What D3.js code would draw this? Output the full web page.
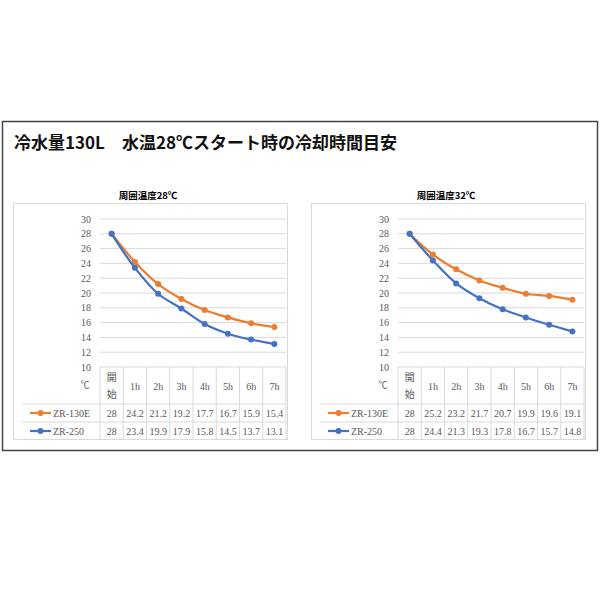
<!DOCTYPE html>
<html><head><meta charset="utf-8">
<script src="https://cdn.jsdelivr.net/npm/d3@7"></script>
<style>body{margin:0;background:#fff}</style>
</head><body>
<svg id="c" width="600" height="600"></svg>
<script>
const categories = ['開始', '1h', '2h', '3h', '4h', '5h', '6h', '7h'];
const yTicks = [10, 12, 14, 16, 18, 20, 22, 24, 26, 28, 30];
const seriesNames = ['ZR-130E', 'ZR-250'];
const colors = ['#ed7d31', '#4472c4'];
const zr130e28 = [28, 24.2, 21.2, 19.2, 17.7, 16.7, 15.9, 15.4];
const zr250_28 = [28, 23.4, 19.9, 17.9, 15.8, 14.5, 13.7, 13.1];
const zr130e32 = [28, 25.2, 23.2, 21.7, 20.7, 19.9, 19.6, 19.1];
const zr250_32 = [28, 24.4, 21.3, 19.3, 17.8, 16.7, 15.7, 14.8];

const svg = d3.select('#c');
const jp = '"Noto Sans CJK JP", sans-serif';
const serif = '"Liberation Serif", "DejaVu Serif", serif';

// outer frame
svg.append('rect').attr('x', 2.5).attr('y', 121.5).attr('width', 595).attr('height', 329)
    .attr('fill', '#fff').attr('stroke', '#444').attr('stroke-width', 1.5);
svg.append('text').attr('x', 14).attr('y', 149).attr('font-family', jp)
    .attr('font-size', 17).attr('font-weight', 'bold').attr('fill', '#111')
    .text('冷水量130L　水温28℃スタート時の冷却時間目安');

function drawChart(ox, title, data) {
    let g = svg.append('g').attr('transform', `translate(${ox},0)`);
    g.append('text').attr('x', 148).attr('y', 199).attr('text-anchor', 'middle')
        .attr('font-family', jp).attr('font-size', 9.5).attr('font-weight', 'bold').text(title);
    g.append('rect').attr('x', 13.5).attr('y', 203.5).attr('width', 274).attr('height', 236)
        .attr('fill', '#fff').attr('stroke', '#d9d9d9');

    let x = d3.scaleBand().domain(categories).range([100, 286]);
    let y = d3.scaleLinear().domain([10, 30]).range([367, 219]);

    // gridlines
    g.selectAll('.grid').data(yTicks).join('line')
        .attr('x1', 100).attr('x2', 286).attr('y1', d => y(d)).attr('y2', d => y(d))
        .attr('stroke', '#d9d9d9');
    g.selectAll('.yl').data(yTicks).join('text')
        .attr('x', 91).attr('y', d => y(d) + 3.5).attr('text-anchor', 'end')
        .attr('font-family', serif).attr('font-size', 10).attr('fill', '#595959').text(d => d);

    // table
    let rowY = [413, 431];
    g.selectAll('.vl').data(categories.concat(['end'])).join('line')
        .attr('x1', (d, i) => 100 + i * x.bandwidth()).attr('x2', (d, i) => 100 + i * x.bandwidth())
        .attr('y1', 367).attr('y2', 440).attr('stroke', '#d9d9d9');
    [404, 422].forEach(ly => g.append('line').attr('x1', 22).attr('x2', 286)
        .attr('y1', ly).attr('y2', ly).attr('stroke', '#d9d9d9'));
    g.append('text').attr('x', 85).attr('y', 388).attr('text-anchor', 'middle')
        .attr('font-family', jp).attr('font-size', 9).attr('fill', '#595959').text('℃');
    categories.forEach((c, i) => {
        let cx = x(c) + x.bandwidth() / 2;
        if (i === 0) {
            g.append('text').attr('x', cx).attr('y', 381).attr('text-anchor', 'middle')
                .attr('font-family', jp).attr('font-size', 10).attr('fill', '#595959').text('開');
            g.append('text').attr('x', cx).attr('y', 398).attr('text-anchor', 'middle')
                .attr('font-family', jp).attr('font-size', 10).attr('fill', '#595959').text('始');
        } else {
            g.append('text').attr('x', cx).attr('y', 390).attr('text-anchor', 'middle')
                .attr('font-family', serif).attr('font-size', 10).attr('fill', '#595959').text(c);
        }
    });

    data.forEach((vals, si) => {
        let line = d3.line().x((d, i) => x(categories[i]) + x.bandwidth() / 2).y(d => y(d))
            .curve(d3.curveCatmullRom);
        g.append('path').datum(vals).attr('d', line).attr('fill', 'none')
            .attr('stroke', colors[si]).attr('stroke-width', 2.2);
        g.selectAll('.pt' + si).data(vals).join('circle')
            .attr('cx', (d, i) => x(categories[i]) + x.bandwidth() / 2).attr('cy', d => y(d))
            .attr('r', 3).attr('fill', colors[si]);
        // legend key + values
        g.append('line').attr('x1', 30).attr('x2', 51).attr('y1', rowY[si]).attr('y2', rowY[si])
            .attr('stroke', colors[si]).attr('stroke-width', 2.2);
        g.append('circle').attr('cx', 40.5).attr('cy', rowY[si]).attr('r', 3).attr('fill', colors[si]);
        g.append('text').attr('x', 53).attr('y', rowY[si] + 3.5).attr('font-family', serif)
            .attr('font-size', 10).attr('fill', '#595959').text(seriesNames[si]);
        g.selectAll('.v' + si).data(vals).join('text')
            .attr('x', (d, i) => x(categories[i]) + x.bandwidth() / 2).attr('y', rowY[si] + 3.5)
            .attr('text-anchor', 'middle').attr('font-family', serif).attr('font-size', 10)
            .attr('fill', '#595959').text(d => d);
    });
}

drawChart(0, '周囲温度28℃', [zr130e28, zr250_28]);
drawChart(298, '周囲温度32℃', [zr130e32, zr250_32]);
</script>
</body></html>
